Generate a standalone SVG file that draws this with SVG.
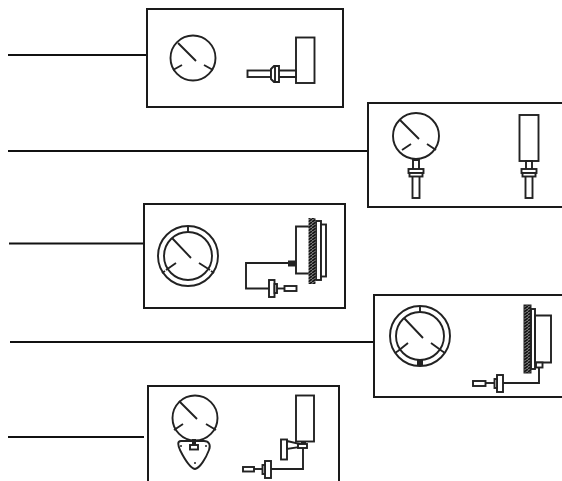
<svg xmlns="http://www.w3.org/2000/svg" width="562" height="481" viewBox="0 0 562 481">
<defs>
<pattern id="hatch" width="4" height="3" patternUnits="userSpaceOnUse"><rect width="4" height="3" fill="#777"/><path d="M0 3L4 0" stroke="#111" stroke-width="1.5"/></pattern>
</defs>
<style>
.box{fill:#fff;stroke:#1a1a1a;stroke-width:2}
.s{fill:none;stroke:#222;stroke-width:1.9}
.w{fill:#fff;stroke:#222;stroke-width:1.9}
.d{fill:#222;stroke:none}
.lead{fill:none;stroke:#111;stroke-width:2}
</style>
<rect width="562" height="481" fill="#fff"/>
<g id="connectors">
<path class="lead" d="M8 55H147"/>
<path class="lead" d="M8 151H368"/>
<path class="lead" d="M9 243.500H144"/>
<path class="lead" d="M10 342H374"/>
<path class="lead" d="M8 437H144"/>
</g>
<g id="node1">
<path class="box" d="M147 9H343V107H147Z"/>
<circle class="s" cx="193" cy="58" r="22.500"/>
<path class="s" d="M178 43L196 61M173 70L182 65M213 70L204 65"/>
<rect class="w" x="296" y="37.500" width="18.500" height="45.500"/>
<rect class="w" x="247.500" y="70.500" width="24" height="6.500"/>
<path class="w" d="M271 70.500H296V77H271Z"/>
<path class="w" d="M271 69L274 66H279V82H274L271 79Z"/>
<path class="s" d="M275 66V82"/>
</g>
<g id="node2">
<path class="box" d="M562 103H368V207H562"/>
<circle class="s" cx="416" cy="136" r="23"/>
<path class="s" d="M400 120L419 139M402 150L411 144M427 144L436 150"/>
<path class="w" d="M413 160H419V170H413Z"/>
<rect class="w" x="412.500" y="176" width="7" height="22"/>
<rect class="w" x="408.500" y="169" width="15" height="4"/>
<rect class="w" x="409.500" y="173" width="13" height="3.500"/>
<rect class="w" x="519.500" y="115" width="19" height="46"/>
<path class="w" d="M526 161H532V170H526Z"/>
<rect class="w" x="525.500" y="176" width="7" height="22"/>
<rect class="w" x="521.500" y="169" width="15" height="4"/>
<rect class="w" x="522.500" y="173" width="13" height="3.500"/>
</g>
<g id="node3">
<path class="box" d="M144 204H345V308H144Z"/>
<circle class="s" cx="188" cy="256" r="30"/>
<circle class="s" cx="188" cy="256" r="24"/>
<path class="s" d="M172 238L191 258M166 270L176 263M210 270L199 263M188 226V232M165 271L162 273M211 271L214 273"/>
<path class="s" d="M296 226.500H310V273.500H296Z"/>
<rect class="w" x="316" y="221" width="5" height="59"/>
<rect class="w" x="321" y="224.500" width="5" height="52"/>
<rect x="308.500" y="218" width="7" height="66" fill="url(#hatch)"/>
<path class="s" d="M288 263H246V288.500H269"/>
<rect class="d" x="288" y="260.500" width="8" height="6"/>
<rect class="w" x="269" y="280" width="5.500" height="17"/>
<rect class="w" x="274.500" y="284" width="2.500" height="9"/>
<path class="s" d="M277 288.500H284"/>
<rect class="w" x="284.500" y="286" width="12" height="5"/>
</g>
<g id="node4">
<path class="box" d="M562 295H374V397H562"/>
<circle class="s" cx="420" cy="336" r="30"/>
<circle class="s" cx="420" cy="336" r="24"/>
<path class="s" d="M404 318L423 338M398 351L408 343M442 351L431 343M420 306V312M398 351L395 353M442 351L445 353"/>
<rect class="d" x="417" y="360" width="6" height="6"/>
<rect x="524" y="305" width="7" height="68" fill="url(#hatch)" stroke="#222"/>
<rect class="s" x="531" y="309" width="4" height="60"/>
<path class="s" d="M535 315.500H551V362.500H535Z"/>
<rect class="w" x="536" y="362.500" width="6.500" height="5"/>
<path class="s" d="M539 367.500V383H503"/>
<rect class="w" x="497" y="375" width="6" height="17"/>
<rect class="w" x="494.500" y="379" width="2.500" height="9"/>
<path class="s" d="M494 383H486"/>
<rect class="w" x="473" y="381" width="12.500" height="5"/>
</g>
<g id="node5">
<path class="box" d="M148 481V386H339V481"/>
<circle class="s" cx="195" cy="418" r="22.500"/>
<path class="s" d="M179 401L197 419M174 430L183 424M216 430L206 424"/>
<path class="w" d="M181 441H204C209 441 211 445 209 450C206 458 200 468 195 469C190 468 184 458 180 450C178 445 177 441 181 441Z"/>
<rect class="w" x="190" y="445" width="8" height="4.500"/>
<rect class="d" x="192" y="439" width="4" height="6"/>
<circle class="d" cx="181" cy="446" r="1"/>
<circle class="d" cx="206" cy="446" r="1"/>
<circle class="d" cx="195" cy="463" r="1"/>
<rect class="w" x="296" y="395.500" width="18" height="46"/>
<rect class="w" x="281" y="439.500" width="6" height="20"/>
<path class="w" d="M287 441L300 444V447L287 449Z"/>
<path class="s" d="M303 448V469H271"/>
<rect class="w" x="298" y="444" width="9" height="4"/>
<rect class="d" x="301" y="441" width="5" height="3"/>
<rect class="w" x="265" y="461" width="6" height="17"/>
<rect class="w" x="262.500" y="465" width="2.500" height="9"/>
<path class="s" d="M262 469H254"/>
<rect class="w" x="243" y="467" width="11" height="4.500"/>
</g>
</svg>
